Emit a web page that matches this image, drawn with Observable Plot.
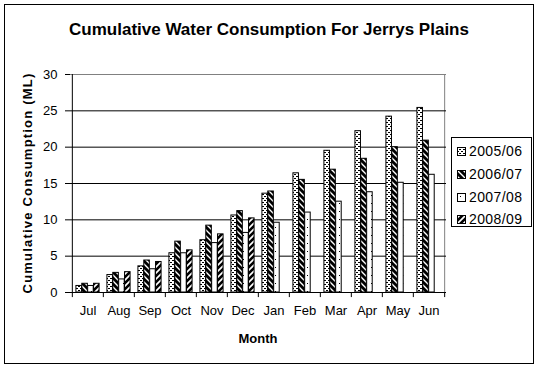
<!DOCTYPE html>
<html><head><meta charset="utf-8">
<script src="https://cdn.jsdelivr.net/npm/d3@7"></script>
<script src="https://cdn.jsdelivr.net/npm/@observablehq/plot@0.6"></script>
<style>
body{margin:0;background:#fff;font-family:"Liberation Sans",Arial,sans-serif;}
#wrap{position:relative;width:538px;height:369px;overflow:hidden;background:#fff;}
#wrap svg.main{position:absolute;left:0;top:0;}
#border{position:absolute;left:4px;top:4px;width:528px;height:358px;border:1px solid #000;pointer-events:none;}
.title{position:absolute;left:0;width:538px;text-align:center;top:20px;font-weight:bold;font-size:17px;line-height:20px;}
.xtitle{position:absolute;left:70px;width:376px;text-align:center;top:331px;font-weight:bold;font-size:13px;line-height:16px;}
.ytitle{position:absolute;left:28px;top:183px;width:260px;margin-left:-130px;margin-top:-8px;text-align:center;transform:rotate(-90deg);font-weight:bold;font-size:13px;line-height:16px;letter-spacing:1.2px;}
#legend{position:absolute;left:451px;top:137px;width:79px;height:88px;border:1px solid #000;background:#fff;}
.li{position:absolute;left:5px;height:16px;font-size:14px;line-height:16px;white-space:nowrap;letter-spacing:0.4px;}
.li svg{vertical-align:middle;margin-right:3px;position:relative;top:-1px;}
</style></head><body>
<div id="wrap"></div>
<script>
const months = ["Jul","Aug","Sep","Oct","Nov","Dec","Jan","Feb","Mar","Apr","May","Jun"];
const seriesNames = ["2005/06","2006/07","2007/08","2008/09"];
const v0506 = [0.9, 2.4, 3.6, 5.4, 7.2, 10.6, 13.6, 16.4, 19.5, 22.2, 24.2, 25.4];
const v0607 = [1.2, 2.7, 4.4, 7.0, 9.2, 11.2, 13.9, 15.5, 16.9, 18.4, 20.0, 20.9];
const v0708 = [0.9, 1.8, 3.2, 5.4, 6.8, 8.2, 9.6, 11.0, 12.5, 13.8, 15.1, 16.2];
const v0809 = [1.2, 2.8, 4.2, 5.8, 8.0, 10.2, null, null, null, null, null, null];
const yTicks = [0, 5, 10, 15, 20, 25, 30];
const gridTicks = [5, 10, 15, 20, 25];

const seriesValues = [v0506, v0607, v0708, v0809];
const rows = seriesValues.map(arr => months.map((m, i) => ({month: m, value: arr[i]})).filter(d => d.value != null));

const W = 538, H = 369, mL = 70, mR = 92, mT = 74, mB = 77;
const bw = (W - mL - mR) / months.length;
const pad = bw * 0.125, barW = (bw - 2 * pad) / seriesNames.length;
const patIds = ["p0", "p1", "p2", "p3"];

const marks = [];
marks.push(Plot.ruleY([30], {stroke: "#808080"}));
marks.push(Plot.ruleX([months[months.length - 1]], {x: d => d, dx: bw / 2, y1: 0, y2: 30, stroke: "#808080"}));
marks.push(Plot.ruleY(gridTicks, {stroke: "#000"}));
seriesNames.forEach((s, i) => {
  marks.push(Plot.barY(rows[i], {
    x: "month", y: "value", fill: `url(#${patIds[i]})`, stroke: "#000", strokeWidth: 1,
    insetLeft: pad + i * barW, insetRight: pad + (seriesNames.length - 1 - i) * barW
  }));
});
marks.push(Plot.ruleY([0], {stroke: "#000"}));
marks.push(Plot.ruleX([months[0]], {x: d => d, dx: -bw / 2, y1: 0, y2: 30, stroke: "#000"}));
marks.push(Plot.ruleX(months, {x: d => d, dx: -bw / 2, y1: 0, y2: -0.7, stroke: "#000"}));
marks.push(Plot.ruleX([months[months.length - 1]], {x: d => d, dx: bw / 2, y1: 0, y2: -0.7, stroke: "#000"}));
marks.push(Plot.axisY({ticks: yTicks, tickSize: 5, tickPadding: 8, fontSize: 13, label: null}));
marks.push(Plot.axisX({tickSize: 0, tickPadding: 13, fontSize: 13, label: null}));

const chart = Plot.plot({
  width: W, height: H,
  marginLeft: mL, marginRight: mR, marginTop: mT, marginBottom: mB,
  style: {fontFamily: "'Liberation Sans', Arial, sans-serif", fontSize: "13px", background: "#fff", color: "#000"},
  x: {domain: months, padding: 0, label: null},
  y: {domain: [0, 30], label: null},
  marks
});
chart.classList.add("main");

function addPatterns(svgSel) {
  const defs = svgSel.insert("defs", ":first-child");
  let p = defs.append("pattern").attr("id", "p0").attr("patternUnits", "userSpaceOnUse").attr("width", 4).attr("height", 4);
  p.append("rect").attr("width", 4).attr("height", 4).attr("fill", "#fff");
  p.append("rect").attr("x", 0).attr("y", 0).attr("width", 2).attr("height", 1).attr("fill", "#000");
  p.append("rect").attr("x", 2).attr("y", 2).attr("width", 2).attr("height", 1).attr("fill", "#000");
  p = defs.append("pattern").attr("id", "p1").attr("patternUnits", "userSpaceOnUse").attr("width", 6).attr("height", 6);
  p.append("rect").attr("width", 6).attr("height", 6).attr("fill", "#000");
  p.append("path").attr("d", "M0,0L6,6M-1,5L1,7M5,-1L7,1").attr("stroke", "#fff").attr("stroke-width", 1.4);
  p = defs.append("pattern").attr("id", "p2").attr("patternUnits", "userSpaceOnUse").attr("width", 8).attr("height", 8);
  p.append("rect").attr("width", 8).attr("height", 8).attr("fill", "#fff");
  p.append("rect").attr("x", 3).attr("y", 3).attr("width", 1).attr("height", 1).attr("fill", "#000");
  p = defs.append("pattern").attr("id", "p3").attr("patternUnits", "userSpaceOnUse").attr("width", 6).attr("height", 6);
  p.append("rect").attr("width", 6).attr("height", 6).attr("fill", "#fff");
  p.append("path").attr("d", "M0,6L6,0M-1,1L1,-1M5,7L7,5").attr("stroke", "#000").attr("stroke-width", 2.6);
}
addPatterns(d3.select(chart));

const wrap = document.getElementById("wrap");
wrap.appendChild(chart);

const title = document.createElement("div");
title.className = "title"; title.textContent = "Cumulative Water Consumption For Jerrys Plains";
wrap.appendChild(title);
const xt = document.createElement("div");
xt.className = "xtitle"; xt.textContent = "Month";
wrap.appendChild(xt);
const yt = document.createElement("div");
yt.className = "ytitle"; yt.textContent = "Cumulative Consumption (ML)";
wrap.appendChild(yt);

const legend = document.createElement("div");
legend.id = "legend";
const tops = [5, 28, 51, 73];
seriesNames.forEach((s, i) => {
  const li = document.createElement("div");
  li.className = "li"; li.style.top = tops[i] + "px";
  li.innerHTML = `<svg width="9" height="9"><rect x="0.5" y="0.5" width="8" height="8" fill="url(#${patIds[i]})" stroke="#000"/></svg>`;
  li.appendChild(document.createTextNode(s));
  legend.appendChild(li);
});
wrap.appendChild(legend);

const border = document.createElement("div");
border.id = "border";
wrap.appendChild(border);
</script>
</body></html>
